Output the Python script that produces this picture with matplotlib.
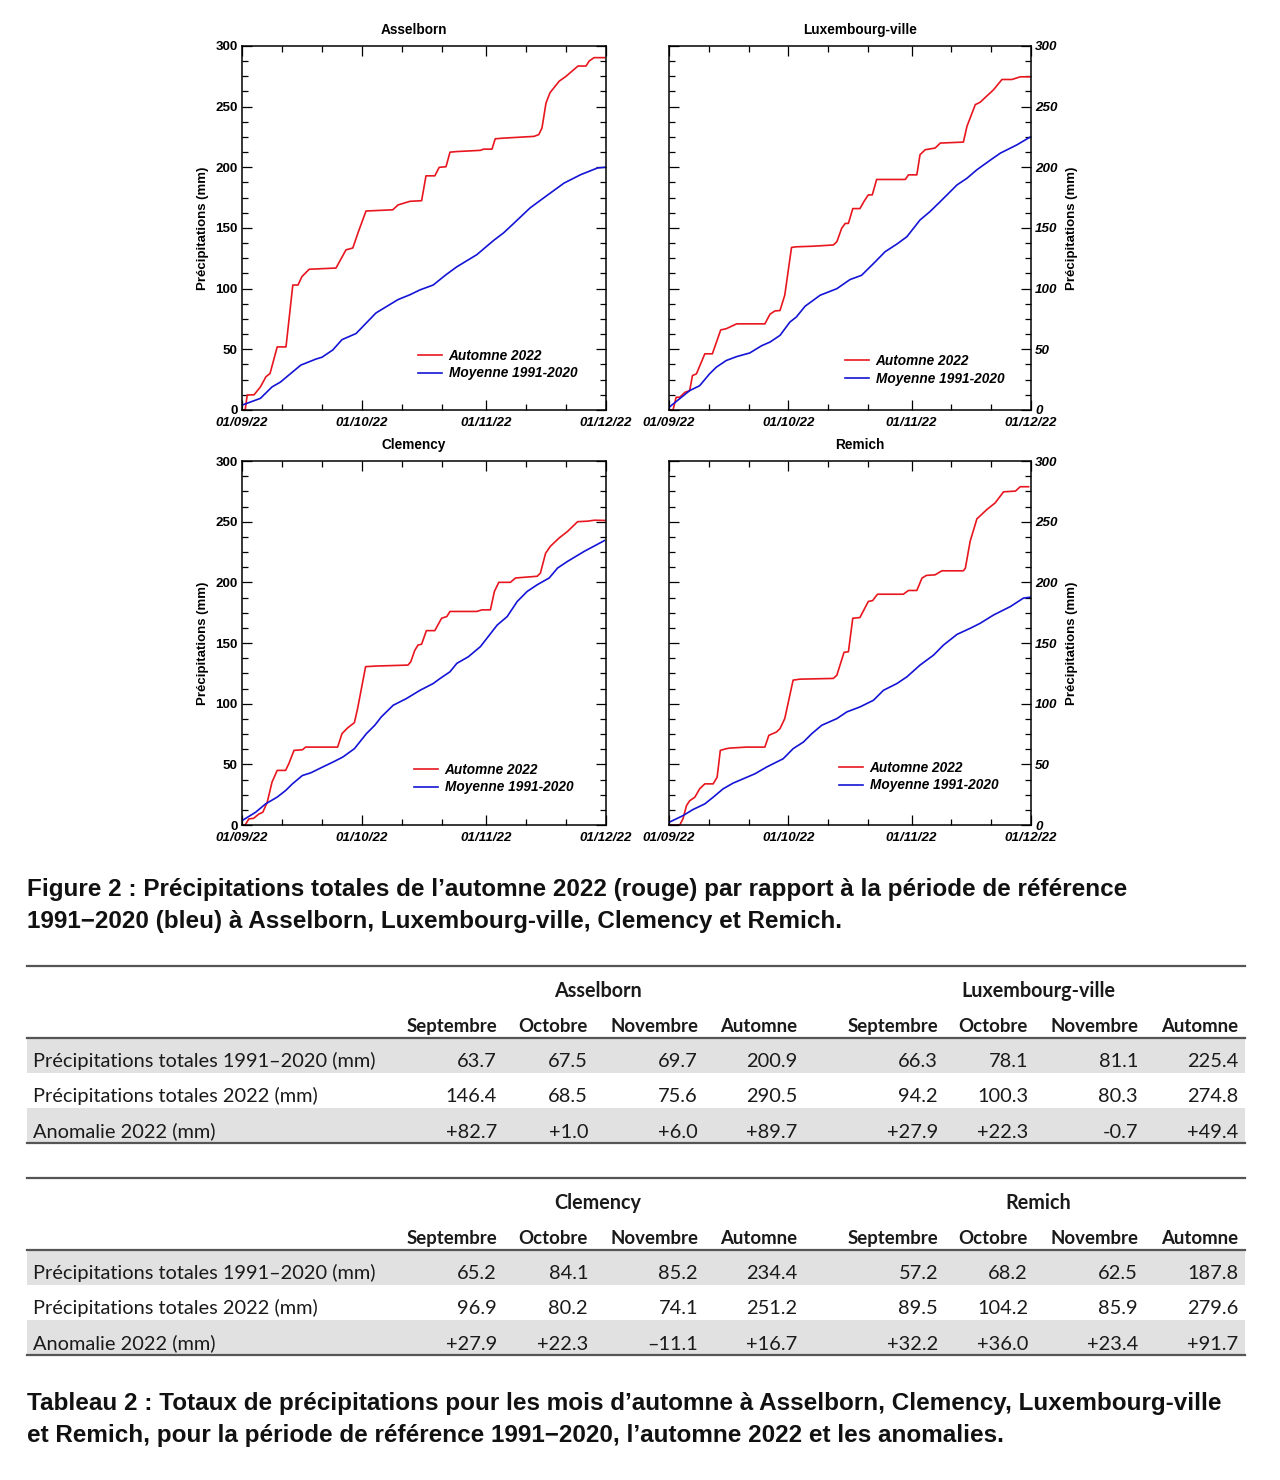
import matplotlib
matplotlib.use("Agg")
import matplotlib.pyplot as plt
from matplotlib.patches import Rectangle
from matplotlib.lines import Line2D

W, H = 1280, 1480
SANS = ["Liberation Sans", "DejaVu Sans"]
TAB = ["Lato", "DejaVu Sans"]
RED = "#e8161e"
BLUE = "#1414d6"

# ---------------- data (days since 01/09/22, cumulative mm) ----------------
date_ticks = [0, 30, 61, 91]
date_labels = ["01/09/22", "01/10/22", "01/11/22", "01/12/22"]
minor_days = [10, 20, 40, 50, 71, 81]

ass_red_days = [0, 0.8, 1.3, 3, 4.6, 6, 7, 8.8, 11, 12.7, 14, 15, 16.8, 23.5, 26, 27.7, 29, 31, 37.7, 39,
                42, 44.9, 46, 48.2, 49.3, 51, 52, 53.7, 59.6, 60.4, 62.5, 63.3, 65, 73, 74.2, 75, 76, 77,
                79.3, 81, 84, 86, 86.8, 88, 90.6]
ass_red_mm = [0, 0, 12.4, 12.5, 19, 27.5, 30, 52, 52, 103, 103, 110, 116, 117, 132, 133.5, 146, 164, 165, 169,
              172, 172.5, 193, 193, 200, 200.5, 212.5, 213, 214, 215, 215, 223.5, 224, 225.5, 227, 232.5, 253,
              261.5, 271, 275, 283.5, 283.5, 287.6, 290.4, 290.4]
ass_blue_days = [0, 4.6, 7.5, 9.6, 14.7, 18.5, 20, 22.7, 25, 28.5, 31, 33.5, 36, 39, 42, 44.5, 47.8, 51, 53.7,
                 58.7, 61.2, 63, 65.4, 68, 72, 75.5, 80.5, 84.7, 88.9, 90.6]
ass_blue_mm = [4, 9.6, 19, 23, 37, 42, 43.5, 49.5, 58, 63, 71.5, 80, 85, 91, 95, 99, 103, 111.5, 118, 128, 135,
               140, 146, 154, 166.5, 175, 187, 194, 199.5, 200]

lux_red_days = [0, 1, 1.8, 2.7, 4, 5.2, 5.9, 6.9, 9, 10.9, 13, 14.4, 15.7, 17, 24.1, 25.4, 26.6, 27.9, 29.1,
                30.8, 32, 36.3, 41.3, 42.2, 43.4, 44.3, 45.1, 46.2, 48, 49, 50.1, 51.1, 52.2, 59.4, 60.2, 62.3,
                63.1, 64.4, 66.9, 68.2, 74, 74.9, 77, 78.2, 80.3, 81.6, 83.7, 86.2, 88.3, 90.8]
lux_red_mm = [0, 0, 10.5, 10.5, 14.6, 16, 28.4, 29.8, 46.3, 46.3, 66, 67, 69, 71, 71, 79, 81.6, 82, 94.6, 134,
              134.5, 135, 136, 138.7, 149.7, 153.8, 153.8, 166, 166, 171.8, 177.3, 177.3, 190, 190, 193.8,
              193.8, 210.4, 214.5, 215.9, 220, 220.8, 233.8, 251.7, 253.6, 260, 264, 272.4, 272.4, 274.6, 274.6]
lux_blue_days = [0, 5.2, 7.7, 10.2, 11.9, 14.4, 17, 20.3, 23.3, 25.4, 27.9, 30.4, 32, 34.2, 38, 42.2, 45.5,
                 48.4, 51.8, 54.3, 57.3, 59.8, 63.1, 65.6, 68.2, 72.4, 74.9, 77.4, 80.8, 83.3, 87.5, 90.8]
lux_blue_mm = [2.2, 16, 20, 29.8, 35.3, 40.8, 44, 47, 53, 56, 61.5, 72.5, 76.6, 85.5, 94.6, 100, 107.5, 111,
               122, 130.4, 136.8, 142.8, 156.6, 163.5, 171.8, 185.5, 191, 198, 206, 211.7, 218.6, 225]

cle_red_days = [0, 0.8, 1.7, 2.9, 4.2, 5.2, 6.3, 7.5, 8.8, 10.9, 11.7, 13, 15.1, 15.9, 23.9, 25, 26.4, 28.1,
                28.9, 30.9, 33.5, 41.5, 42.2, 43.2, 44, 44.9, 46.1, 48.2, 49.9, 51.2, 52, 58.7, 60, 62.1, 63.1,
                64.2, 67.1, 68.4, 73.8, 74.6, 75.9, 77.1, 79.3, 81.4, 83.9, 86.4, 88.1, 91]
cle_red_mm = [0, 0, 5, 5.5, 9, 10.5, 18.7, 35.3, 45, 45, 50.5, 61.5, 62, 64.2, 64.2, 75.3, 80, 84.4, 96, 130.5,
              131, 131.8, 134.6, 144, 148.3, 149, 160.2, 160.2, 170.4, 171.8, 176, 176, 177.3, 177.3, 192.5,
              200, 200, 203.6, 205, 207.6, 224, 229.7, 236.6, 242, 250, 250.4, 251.2, 251]
cle_blue_days = [0, 3.4, 5.9, 8.8, 10.9, 12.6, 15.1, 17.2, 20.1, 22.7, 25.2, 28.1, 31.1, 33.2, 34.8, 37.8,
                 41.1, 44.5, 47.8, 49.5, 52, 53.7, 56.6, 59.6, 61.2, 63.8, 66.3, 68.8, 71.3, 73.8, 76.8, 78.9,
                 81.4, 85.6, 90.6]
cle_blue_mm = [3.6, 10.5, 17.4, 23, 28.4, 33.9, 40.8, 43, 47.7, 51.8, 56, 62.9, 75.3, 82.2, 89, 98.7, 104.2,
               111, 116.6, 120.7, 126.3, 133.2, 138.7, 147, 153.8, 164.8, 171.8, 184.2, 192.5, 198, 203.6,
               211.8, 217.3, 225.6, 234.4]

rem_red_days = [0, 2.7, 3.5, 4.4, 5.2, 6.5, 7.7, 9, 11.1, 12.1, 12.9, 14.4, 15.3, 19.5, 24.1, 25.1, 27, 27.9,
                29.1, 31.2, 32.9, 41.3, 42.2, 44, 45.1, 46.2, 48, 49, 50.1, 51.2, 52.4, 58.9, 60.2, 62.3, 63.6,
                64.7, 66.9, 68.6, 74, 74.5, 75.7, 77.4, 79.9, 82, 84.1, 87.1, 88.3, 90.4]
rem_red_mm = [0, 0, 5, 16, 20, 22.9, 29.8, 33.9, 33.9, 39.4, 61.5, 62.9, 63.4, 64.2, 64.2, 73.9, 76.6, 79.4,
              87.7, 119.4, 120.2, 120.8, 123.5, 142.3, 142.8, 170.4, 171, 177.3, 184.2, 185, 190.2, 190.2,
              193.3, 193.3, 203.5, 205.7, 206.2, 209.5, 209.5, 211.7, 233.8, 252.3, 260, 265.5, 274.6, 275.2,
              278.8, 278.8]
rem_blue_days = [0, 3.5, 6, 9, 11.1, 13.6, 16.1, 18.6, 21.6, 24.5, 28.7, 31.2, 33.8, 35.9, 38.4, 42.2, 44.7,
                 48, 51.4, 53.9, 57.3, 59.8, 63.1, 66.5, 69, 72.4, 75.7, 78.2, 81.6, 85.8, 89.1, 91]
rem_blue_mm = [2.2, 7.7, 12.7, 17.4, 22.9, 29.8, 34.5, 38, 42.2, 47.7, 54.6, 62.9, 68.4, 75.3, 82.2, 87.7,
               93.2, 97.3, 102.8, 111, 116.6, 122.1, 131.8, 140, 148.3, 157.1, 162.1, 166.2, 173.1, 180, 187,
               187.8]

legend_labels = ["Automne 2022", "Moyenne 1991-2020"]

# table data
months = ["Septembre", "Octobre", "Novembre", "Automne"]
row_labels = ["Précipitations totales 1991–2020 (mm)", "Précipitations totales 2022 (mm)", "Anomalie 2022 (mm)"]
ass_norm = [63.7, 67.5, 69.7, 200.9]
ass_2022 = [146.4, 68.5, 75.6, 290.5]
ass_anom = ["+82.7", "+1.0", "+6.0", "+89.7"]
lux_norm = [66.3, 78.1, 81.1, 225.4]
lux_2022 = [94.2, 100.3, 80.3, 274.8]
lux_anom = ["+27.9", "+22.3", "-0.7", "+49.4"]
cle_norm = [65.2, 84.1, 85.2, 234.4]
cle_2022 = [96.9, 80.2, 74.1, 251.2]
cle_anom = ["+27.9", "+22.3", "\u201311.1", "+16.7"]
rem_norm = [57.2, 68.2, 62.5, 187.8]
rem_2022 = [89.5, 104.2, 85.9, 279.6]
rem_anom = ["+32.2", "+36.0", "+23.4", "+91.7"]

fig_caption = ["Figure 2 : Précipitations totales de l\u2019automne 2022 (rouge) par rapport à la période de référence",
               "1991\u22122020 (bleu) à Asselborn, Luxembourg-ville, Clemency et Remich."]
tab_caption = ["Tableau 2 : Totaux de précipitations pour les mois d\u2019automne à Asselborn, Clemency, Luxembourg-ville",
               "et Remich, pour la période de référence 1991\u22122020, l\u2019automne 2022 et les anomalies."]

# ---------------- figure ----------------
fig = plt.figure(figsize=(12.8, 14.8), dpi=100)
fig.patch.set_facecolor("white")

ov = fig.add_axes([0, 0, 1, 1], zorder=-5)
ov.set_xlim(0, W)
ov.set_ylim(H, 0)
ov.axis("off")

panels = [
    ("Asselborn", ass_red_days, ass_red_mm, ass_blue_days, ass_blue_mm, (242, 46, 606, 410), "left", 414, 30, (0.4835, 0.125)),
    ("Luxembourg-ville", lux_red_days, lux_red_mm, lux_blue_days, lux_blue_mm, (669, 46, 1031, 410), "right", 860, 30, (0.486, 0.111)),
    ("Clemency", cle_red_days, cle_red_mm, cle_blue_days, cle_blue_mm, (242, 461, 606, 825), "left", 414, 445, (0.4725, 0.128)),
    ("Remich", rem_red_days, rem_red_mm, rem_blue_days, rem_blue_mm, (669, 461, 1031, 825), "right", 860, 445, (0.4696, 0.133)),
]

for name, rd, rv, bd, bv, (x0, y0, x1, y1), side, tx, ty, leg in panels:
    ax = fig.add_axes([x0 / W, 1 - y1 / H, (x1 - x0) / W, (y1 - y0) / H])
    ax.plot(rd, rv, color=RED, lw=1.2, label=legend_labels[0], solid_joinstyle="round")
    ax.plot(bd, bv, color=BLUE, lw=1.2, label=legend_labels[1], solid_joinstyle="round")
    ax.set_xlim(0, 91)
    ax.set_ylim(0, 300)
    ax.set_xticks(date_ticks)
    ax.set_xticklabels(date_labels)
    ax.set_xticks(minor_days, minor=True)
    ax.set_yticks(range(0, 301, 50))
    ax.set_yticks([v * 12.5 for v in range(25)], minor=True)
    ax.tick_params(which="both", direction="in", top=True, bottom=True, left=True, right=True,
                   width=0.9, color="black")
    ax.tick_params(which="major", length=7)
    ax.tick_params(which="minor", length=4.3)
    ax.tick_params(axis="x", pad=5)
    ax.tick_params(axis="y", pad=3)
    for s in ax.spines.values():
        s.set_linewidth(1.1)
    for lab in ax.get_xticklabels():
        lab.set_fontfamily(SANS)
        lab.set_fontweight("bold")
        lab.set_fontstyle("italic")
        lab.set_fontsize(9.6)
    if side == "right":
        ax.tick_params(axis="y", labelleft=False, labelright=True)
    for lab in ax.get_yticklabels():
        lab.set_fontfamily(SANS)
        lab.set_fontweight("bold")
        lab.set_fontsize(9.6)
        if side == "right":
            lab.set_fontstyle("italic")
    ax.legend(loc="center left", bbox_to_anchor=leg, frameon=False, borderpad=0, borderaxespad=0,
              handlelength=1.8, handletextpad=0.45, labelspacing=0.28,
              prop=dict(family=SANS, weight="bold", style="italic", size=9.8))
    ov.text(tx, ty, name, ha="center", va="center", fontfamily=SANS, fontweight="bold", fontsize=9.8)
    ylx = 203 if side == "left" else 1072
    ov.text(ylx, (y0 + y1) / 2, "Précipitations (mm)", rotation=90, ha="center", va="center",
            fontfamily=SANS, fontweight="bold", fontsize=9.5)

CAP = 17.5
# figure caption
for i, line in enumerate(fig_caption):
    ov.text(27, 896 + 32 * i, line, ha="left", va="baseline", fontfamily=SANS, fontweight="bold",
            fontsize=CAP, color="#111111")

# tables
LX0, LX1 = 27, 1245
GRAY = "#e1e1e1"
RULE = "#555555"
TSIZE = 14.4
HSIZE = 14.2
MSIZE = 13.4


def draw_table(top, groups):
    ov.add_patch(Rectangle((LX0, top + 71.5), LX1 - LX0, 35.5, facecolor=GRAY, edgecolor="none"))
    ov.add_patch(Rectangle((LX0, top + 142), LX1 - LX0, 35, facecolor=GRAY, edgecolor="none"))
    ov.add_line(Line2D([LX0, LX1], [top, top], color=RULE, lw=1.6))
    ov.add_line(Line2D([LX0, LX1], [top + 71.5, top + 71.5], color=RULE, lw=1.6))
    ov.add_line(Line2D([LX0, LX1], [top + 177, top + 177], color=RULE, lw=1.6))
    for i, lab in enumerate(row_labels):
        ov.text(33, top + 101 + 35.3 * i, lab, ha="left", va="baseline", fontfamily=TAB,
                fontsize=TSIZE, color="#1a1a1a")
    for gname, cx, cols, norm, y22, anom in groups:
        ov.text(cx, top + 31, gname, ha="center", va="baseline", fontfamily=TAB, fontweight="bold",
                fontsize=HSIZE, color="#1a1a1a")
        for j, m in enumerate(months):
            ov.text(cols[j], top + 66, m, ha="right", va="baseline", fontfamily=TAB, fontweight="bold",
                    fontsize=MSIZE, color="#1a1a1a")
            vals = [f"{norm[j]:.1f}", f"{y22[j]:.1f}", anom[j]]
            for i, v in enumerate(vals):
                ov.text(cols[j], top + 101 + 35.3 * i, v, ha="right", va="baseline", fontfamily=TAB,
                        fontsize=TSIZE, color="#1a1a1a")


cols1 = [497, 588, 698, 797]
cols2 = [938, 1028, 1138, 1238]
draw_table(966, [("Asselborn", 598, cols1, ass_norm, ass_2022, ass_anom),
                 ("Luxembourg-ville", 1038, cols2, lux_norm, lux_2022, lux_anom)])
draw_table(1178, [("Clemency", 598, cols1, cle_norm, cle_2022, cle_anom),
                  ("Remich", 1038, cols2, rem_norm, rem_2022, rem_anom)])

for i, line in enumerate(tab_caption):
    ov.text(27, 1410 + 32 * i, line, ha="left", va="baseline", fontfamily=SANS, fontweight="bold",
            fontsize=CAP, color="#111111")

fig.savefig("out.png", dpi=100, facecolor="white")
